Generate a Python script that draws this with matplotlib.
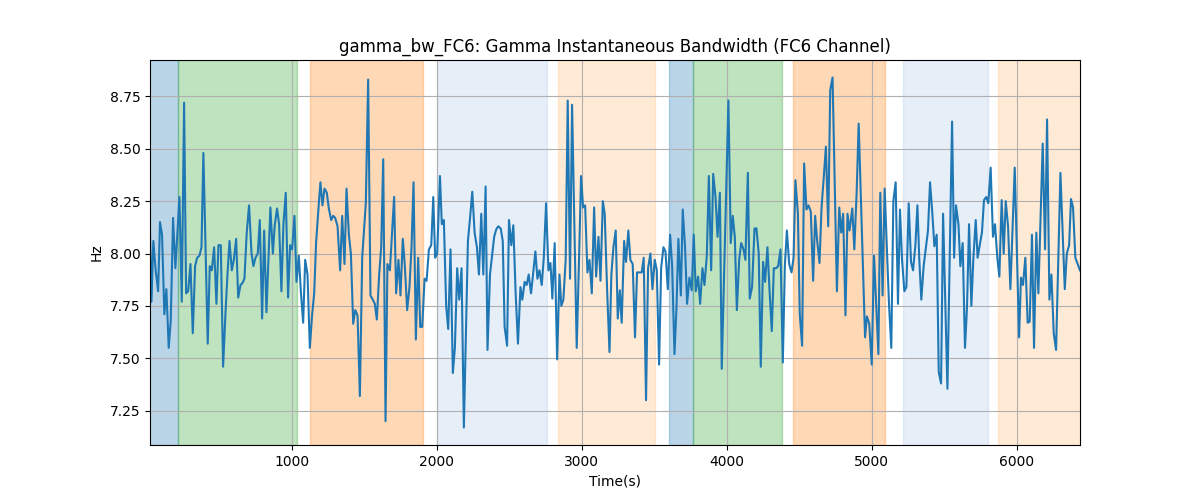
import matplotlib
matplotlib.use('Agg')
import matplotlib.pyplot as plt

# time (s) and instantaneous bandwidth (Hz)
time_s = [
    23, 33, 46, 62, 79, 92, 106, 122, 136, 152, 166, 182, 198, 226, 242, 258, 272, 286, 302, 318,
    334, 348, 364, 378, 391, 408, 421, 435, 449, 465, 481, 495, 511, 527, 543, 557, 571, 587, 601, 617,
    631, 647, 661, 674, 690, 706, 723, 736, 750, 766, 780, 796, 810, 826, 853, 870, 883, 899, 913, 929,
    943, 959, 975, 989, 1003, 1019, 1033, 1049, 1063, 1079, 1093, 1109, 1125, 1141, 1155, 1168, 1185, 1198, 1212, 1226,
    1242, 1256, 1272, 1286, 1300, 1316, 1334, 1348, 1364, 1378, 1394, 1408, 1424, 1438, 1454, 1470, 1486, 1511, 1527, 1543,
    1559, 1573, 1587, 1603, 1617, 1631, 1647, 1660, 1677, 1690, 1706, 1720, 1736, 1750, 1766, 1780, 1796, 1812, 1826, 1840,
    1856, 1872, 1886, 1900, 1916, 1930, 1946, 1962, 1976, 1989, 2003, 2022, 2035, 2049, 2065, 2079, 2095, 2111, 2125, 2141,
    2155, 2171, 2187, 2215, 2231, 2245, 2261, 2277, 2291, 2307, 2321, 2337, 2350, 2367, 2383, 2396, 2410, 2424, 2441, 2455,
    2468, 2485, 2498, 2514, 2528, 2544, 2560, 2577, 2590, 2606, 2620, 2634, 2650, 2664, 2680, 2694, 2708, 2724, 2738, 2754,
    2770, 2784, 2797, 2813, 2830, 2846, 2859, 2873, 2889, 2903, 2919, 2933, 2965, 2981, 2995, 3009, 3023, 3039, 3053, 3069,
    3085, 3099, 3115, 3129, 3145, 3158, 3175, 3191, 3204, 3218, 3234, 3248, 3262, 3275, 3292, 3305, 3321, 3335, 3351, 3367,
    3381, 3397, 3413, 3427, 3443, 3457, 3473, 3487, 3503, 3517, 3533, 3547, 3563, 3577, 3593, 3609, 3623, 3639, 3653, 3666,
    3683, 3696, 3712, 3726, 3742, 3758, 3772, 3786, 3802, 3816, 3832, 3846, 3862, 3876, 3892, 3906, 3922, 3936, 3952, 3965,
    4011, 4027, 4041, 4055, 4069, 4085, 4099, 4115, 4128, 4145, 4158, 4174, 4191, 4204, 4220, 4234, 4250, 4264, 4280, 4294,
    4310, 4324, 4340, 4354, 4370, 4386, 4400, 4414, 4430, 4446, 4460, 4473, 4490, 4503, 4519, 4533, 4549, 4563, 4579, 4595,
    4609, 4623, 4639, 4653, 4669, 4683, 4699, 4713, 4729, 4759, 4775, 4789, 4802, 4818, 4832, 4846, 4865, 4879, 4895, 4909,
    4953, 4966, 4982, 4999, 5015, 5045, 5058, 5074, 5088, 5118, 5134, 5148, 5164, 5180, 5194, 5208, 5224, 5238, 5254, 5270,
    5284, 5300, 5314, 5327, 5341, 5357, 5371, 5387, 5401, 5417, 5431, 5447, 5461, 5477, 5491, 5521, 5553, 5567, 5580, 5597,
    5610, 5626, 5642, 5656, 5670, 5686, 5700, 5716, 5729, 5746, 5759, 5773, 5789, 5803, 5819, 5835, 5849, 5865, 5879, 5895,
    5909, 5923, 5939, 5955, 5985, 6015, 6028, 6042, 6058, 6074, 6088, 6104, 6118, 6134, 6148, 6178, 6194, 6208, 6224, 6238,
    6254, 6270, 6300, 6330, 6344, 6360, 6373, 6387, 6403, 6419, 6435,
]
bw_hz = [
    8.10, 7.77, 8.06, 7.92, 7.82, 8.15, 8.09, 7.71, 7.83, 7.55, 7.68, 8.17, 7.93, 8.27, 7.77, 8.72, 7.81, 7.82, 7.95, 7.62,
    7.94, 7.98, 7.99, 8.03, 8.48, 7.97, 7.57, 7.94, 7.92, 8.03, 7.76, 8.04, 8.04, 7.46, 7.71, 7.90, 8.06, 7.92, 7.97, 8.07,
    7.79, 7.85, 7.86, 7.88, 8.10, 8.23, 8.00, 7.94, 7.98, 8.00, 8.16, 7.69, 8.11, 7.72, 8.22, 8.00, 8.135, 8.215, 8.14, 7.82,
    8.14, 8.29, 7.79, 8.04, 8.02, 8.18, 7.865, 7.99, 7.82, 7.67, 7.97, 7.90, 7.55, 7.71, 7.81, 8.05, 8.22, 8.34, 8.23, 8.31,
    8.29, 8.215, 8.16, 8.18, 8.17, 8.13, 7.92, 8.18, 7.95, 8.31, 8.09, 8.00, 7.665, 7.73, 7.705, 7.32, 7.98, 8.24, 8.83, 7.80,
    7.78, 7.76, 7.685, 7.90, 8.03, 8.45, 7.20, 7.95, 7.92, 8.08, 8.27, 7.81, 7.97, 7.80, 8.07, 7.94, 7.73, 7.84, 8.03, 8.34,
    7.59, 7.98, 7.65, 7.65, 7.88, 7.87, 8.02, 8.04, 8.27, 7.98, 8.00, 8.37, 8.14, 8.16, 7.75, 7.64, 8.02, 7.43, 7.55, 7.93,
    7.78, 7.93, 7.17, 8.06, 8.18, 8.295, 8.10, 8.03, 7.90, 8.19, 7.90, 8.32, 7.54, 7.90, 8.00, 8.08, 8.115, 8.13, 8.12, 8.06,
    7.65, 7.56, 8.16, 8.04, 8.135, 7.81, 7.57, 7.84, 7.78, 7.865, 7.85, 7.90, 7.81, 7.90, 8.01, 7.88, 7.92, 7.85, 7.98, 8.24,
    7.92, 7.955, 7.785, 8.05, 7.495, 7.90, 7.75, 7.78, 7.97, 8.73, 7.88, 8.71, 7.55, 7.97, 8.37, 8.22, 8.23, 7.91, 7.97, 7.81,
    8.22, 7.89, 8.08, 7.87, 8.25, 8.19, 7.82, 7.53, 7.90, 8.03, 8.11, 7.69, 7.825, 7.67, 8.06, 7.96, 8.11, 7.97, 7.95, 7.60,
    7.91, 7.91, 7.91, 7.98, 7.30, 7.93, 8.00, 7.83, 7.97, 7.92, 7.47, 7.93, 8.03, 8.01, 7.83, 8.09, 7.94, 7.52, 7.745, 8.07,
    7.80, 8.21, 8.03, 7.76, 7.885, 7.825, 8.09, 7.82, 7.89, 7.76, 7.93, 7.85, 7.99, 8.37, 7.92, 8.38, 8.27, 8.08, 8.29, 7.45,
    8.73, 8.05, 8.18, 8.08, 7.73, 7.97, 8.05, 8.02, 7.97, 8.385, 7.785, 7.84, 8.12, 8.12, 8.00, 7.46, 7.96, 7.865, 8.03, 7.83,
    7.63, 7.93, 7.93, 7.94, 8.02, 7.48, 7.94, 8.11, 7.95, 7.91, 7.98, 8.35, 8.19, 7.71, 7.56, 8.43, 8.21, 8.23, 8.20, 7.87,
    8.18, 8.06, 7.955, 8.22, 8.37, 8.51, 8.13, 8.78, 8.84, 7.82, 8.22, 8.10, 8.19, 7.705, 8.19, 8.11, 8.215, 8.02, 8.29, 8.62,
    7.60, 7.70, 7.665, 7.47, 7.99, 7.52, 8.29, 7.80, 8.31, 7.76, 7.55, 8.25, 8.34, 7.76, 8.21, 7.97, 7.82, 7.84, 8.24, 7.96,
    7.92, 8.04, 8.23, 7.97, 7.78, 7.94, 8.02, 8.11, 8.34, 8.19, 8.035, 8.09, 7.435, 7.38, 8.19, 7.355, 8.63, 7.98, 8.23, 8.14,
    7.94, 8.05, 7.55, 7.745, 8.14, 7.75, 7.98, 8.16, 7.98, 8.05, 8.10, 8.255, 8.27, 8.24, 8.41, 8.08, 8.14, 7.98, 7.89, 8.255,
    8.00, 8.25, 8.13, 7.83, 8.41, 7.60, 7.885, 7.85, 7.98, 7.67, 7.675, 8.09, 7.55, 8.10, 7.81, 8.525, 8.02, 8.64, 7.78, 7.90,
    7.62, 7.54, 8.385, 7.83, 8.00, 8.04, 8.26, 8.22, 7.98, 7.95, 7.92,
]

# shaded segments
seg_start = [0, 219, 1129, 2000, 2834, 3600, 3770, 4455, 5215, 5870]
seg_end = [219, 1037, 1907, 2758, 3503, 3770, 4379, 5091, 5798, 6450]
seg_kind = ['blue', 'green', 'orange', 'lightblue', 'lightorange',
            'blue', 'green', 'orange', 'lightblue', 'lightorange']

kind_colors = {
    'blue': '#1f77b4',
    'green': '#2ca02c',
    'orange': '#ff7f0e',
    'lightblue': '#aec7e8',
    'lightorange': '#ffbb78',
}

fig, ax = plt.subplots(figsize=(12, 5), dpi=100)

for s, e, k in zip(seg_start, seg_end, seg_kind):
    ax.axvspan(s, e, color=kind_colors[k], alpha=0.3)

ax.plot(time_s, bw_hz, color='#1f77b4', linewidth=1.5)

ax.set_xlim(time_s[0], time_s[-1])
ax.set_title('gamma_bw_FC6: Gamma Instantaneous Bandwidth (FC6 Channel)')
ax.set_xlabel('Time(s)')
ax.set_ylabel('Hz')
ax.grid(True)

plt.savefig('out.png')
